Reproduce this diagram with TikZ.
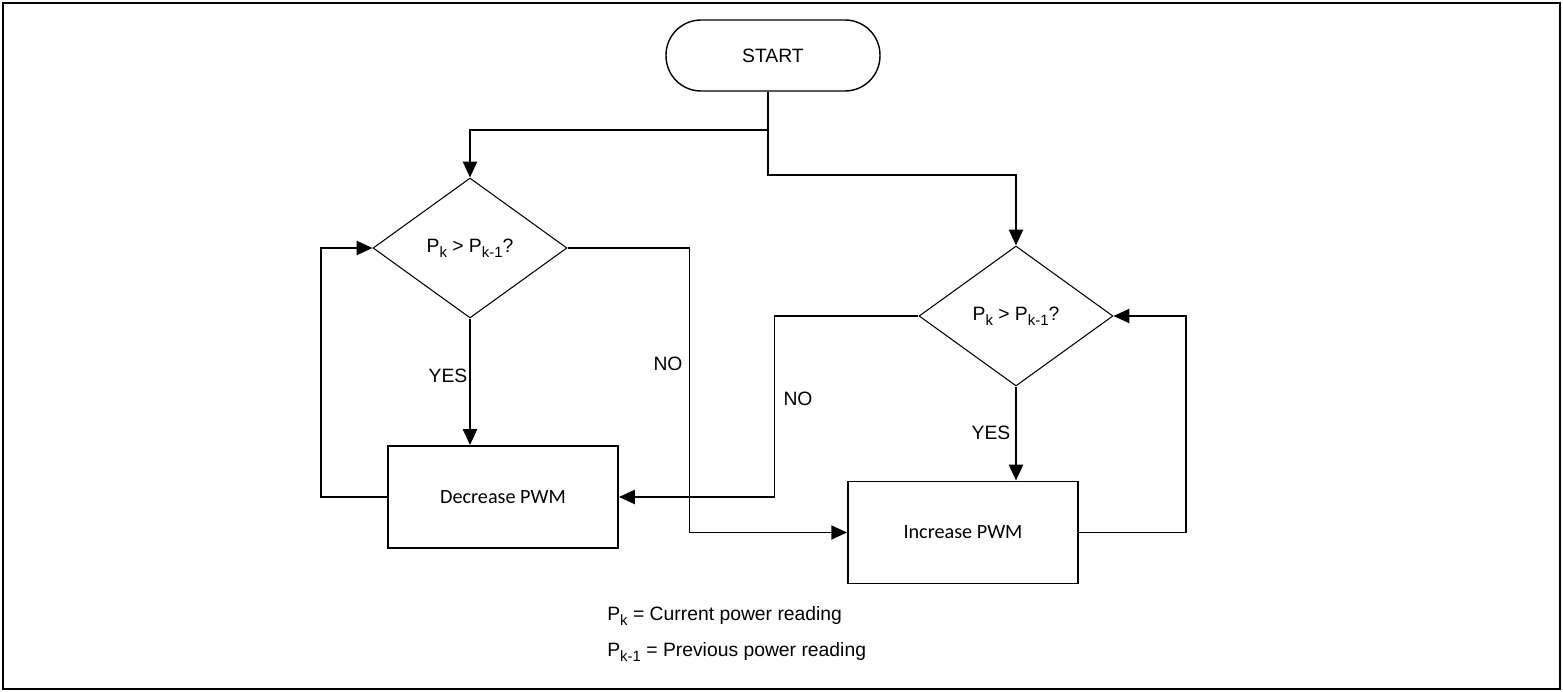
\documentclass[tikz,border=0pt]{standalone}
\usepackage{fontspec}
\setmainfont{Liberation Sans}
\newfontfamily\calib{Carlito}
\usetikzlibrary{shapes.geometric,arrows.meta}
\newcommand{\mysub}[1]{\raisebox{-0.45ex}{\fontsize{8.5}{9}\selectfont #1}}
\newcommand{\Pk}{P\mysub{k}}
\newcommand{\Pkm}{P\mysub{k-1}}
\begin{document}
\begin{tikzpicture}[x=0.02cm,y=-0.02cm,
  conn/.style={line width=1.1pt},
  arr/.style={conn,-{Triangle[length=9pt,width=8pt]}},
  decis/.style={diamond,draw,line width=0.6pt,inner sep=0pt,aspect=1.386,minimum width=3.88cm,minimum height=2.8cm,font=\fontsize{11}{12}\selectfont},
  procbox/.style={rectangle,draw,line width=1.1pt,minimum width=4.6cm,minimum height=2.04cm,font=\calib\fontsize{11.5}{13}\selectfont},
  lbl/.style={font=\fontsize{11}{12}\selectfont,inner sep=0pt}]
\useasboundingbox (0,0) rectangle (1563,692);
\draw[line width=1.4pt] (3,3) rectangle (1560,689);
\node[draw,line width=0.8pt,rounded corners=0.7cm,minimum width=4.28cm,minimum height=1.42cm,font=\fontsize{11}{12}\selectfont] (start) at (773,55.5) {START};
\node[decis] (d1) at (470,248) {\Pk{} > \Pkm?};
\node[decis] (d2) at (1016,316) {\Pk{} > \Pkm?};
\node[procbox] (dec) at (503,497) {Decrease PWM};
\node[procbox] (inc) at (963,532.5) {Increase PWM};
\coordinate (sp) at (768,130);
\coordinate (sp2) at (768,175);
\draw[conn] (sp |- start.south) -- (sp);
\draw[arr] (sp) -| (d1.north);
\draw[arr] (sp) -- (sp2) -| (d2.north);
\draw[arr] (d1.south) -- (d1.south |- dec.north);
\draw[arr] (d2.south) -- (d2.south |- inc.north);
\draw[arr] (dec.west) -- ++(-66,0) |- (d1.west);
\draw[arr] (d1.east) -- ++(122,0) |- (inc.west);
\draw[arr] (d2.west) -- ++(-144,0) |- (dec.east);
\draw[arr] (inc.east) -- ++(107,0) |- (d2.east);
\node[lbl] (yes1) at (448,376) {YES};
\node[lbl] (no1) at (668,364) {NO};
\node[lbl] (no2) at (798,399) {NO};
\node[lbl] (yes2) at (991,433) {YES};
\node[lbl,anchor=west] (leg1) at (607,616) {\Pk{} = Current power reading};
\node[lbl,anchor=west] (leg2) at (607,652) {\Pkm{} = Previous power reading};
\end{tikzpicture}
\end{document}
